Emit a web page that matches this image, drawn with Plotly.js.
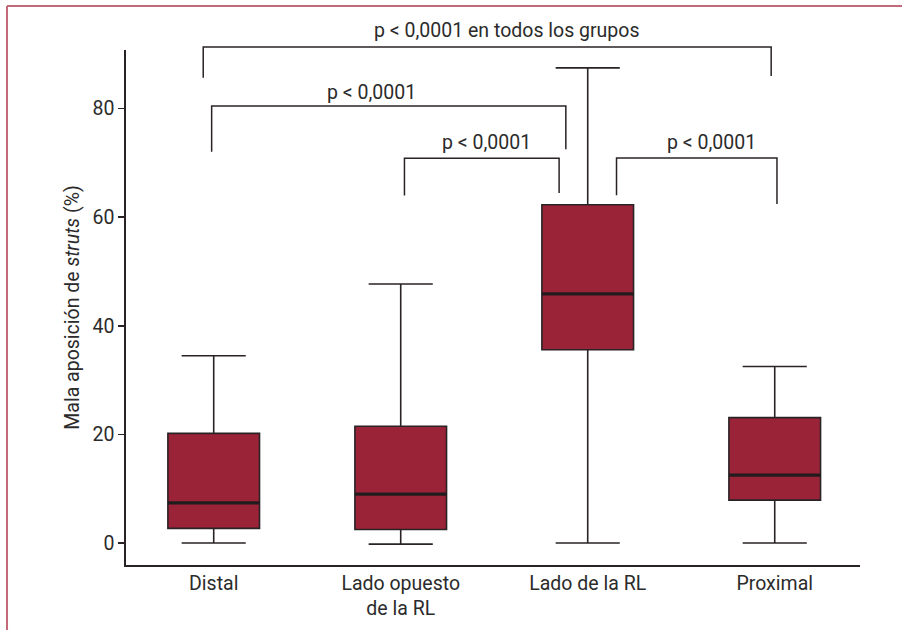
<!DOCTYPE html>
<html>
<head>
<meta charset="utf-8">
<script src="https://cdn.plot.ly/plotly-3.0.1.min.js"></script>
<style>html,body{margin:0;padding:0;background:#fff}#chart{width:902px;height:630px}</style>
</head>
<body>
<div id="chart"></div>
<script>
// ---- data ----
var categories = ["Distal", "Lado opuesto<br>de la RL", "Lado de la RL", "Proximal"];
var lowerWhisker = [0, -0.2, 0, 0];
var q1Values = [2.7, 2.5, 35.6, 7.9];
var medianValues = [7.4, 9.0, 45.9, 12.5];
var q3Values = [20.2, 21.5, 62.3, 23.1];
var upperWhisker = [34.5, 47.7, 87.5, 32.5];
var yTickValues = [0, 20, 40, 60, 80];
var yTitle = "Mala aposición de <i>struts</i> (%)";

// significance brackets: [from category index, to category index, label]
var bracketFrom = [0, 0, 1, 2];
var bracketTo = [3, 2, 2, 3];
var bracketLabels = ["p < 0,0001 en todos los grupos", "p < 0,0001", "p < 0,0001", "p < 0,0001"];

// ---- styling / layout ----
var FONT = "Roboto, 'Liberation Sans', sans-serif";
var FS = 19.5;
var TXT = "#2b2b2b";
var LINE = "#2a2326";
var FILL = "#9b2337";
var BOXW = 0.49;

// bracket geometry (in x-category offsets and paper y)
var bracketGeom = [
  {dx0: -0.056, dx1: -0.019, yTop: 1.0058, yL: 0.9462, yR: 0.9495, tx: 1.569, ty: 1.037},
  {dx0: -0.011, dx1: -0.117, yTop: 0.8913, yL: 0.8026, yR: 0.8073, tx: 0.845, ty: 0.9175},
  {dx0: 0.020, dx1: -0.153, yTop: 0.7898, yL: 0.7173, yR: 0.7225, tx: 1.460, ty: 0.8195},
  {dx0: 0.154, dx1: 0.012, yTop: 0.7904, yL: 0.7180, yR: 0.7011, tx: 2.660, ty: 0.8195}
];

var shapes = [];
var annotations = [];

// median lines (thicker)
for (var i = 0; i < medianValues.length; i++) {
  shapes.push({type: "line", xref: "x", yref: "y", x0: i - BOXW / 2, x1: i + BOXW / 2,
    y0: medianValues[i], y1: medianValues[i], line: {color: "#231c1f", width: 3.2}, layer: "above"});
}

for (var b = 0; b < bracketFrom.length; b++) {
  var g = bracketGeom[b];
  var xa = bracketFrom[b] + g.dx0, xb = bracketTo[b] + g.dx1;
  shapes.push({type: "path", xref: "x", yref: "paper",
    path: "M" + xa + "," + g.yL + " L" + xa + "," + g.yTop + " L" + xb + "," + g.yTop + " L" + xb + "," + g.yR,
    line: {color: LINE, width: 1.5}});
  annotations.push({xref: "x", yref: "paper", x: g.tx, y: g.ty, text: bracketLabels[b], showarrow: false,
    xanchor: "center", yanchor: "middle", font: {family: FONT, size: FS, color: TXT}});
}

// frame lines (top and left)
shapes.push({type: "line", xref: "paper", yref: "paper", x0: -0.1621, x1: 1.0572, y0: 1.0854, y1: 1.0854, line: {color: "#c26a79", width: 2}});
shapes.push({type: "line", xref: "paper", yref: "paper", x0: -0.1621, x1: -0.1621, y0: 1.0854, y1: -0.1262, line: {color: "#c26a79", width: 2}});

var trace = {
  type: "box",
  x: categories,
  q1: q1Values,
  median: medianValues,
  q3: q3Values,
  lowerfence: lowerWhisker,
  upperfence: upperWhisker,
  width: BOXW,
  whiskerwidth: 0.7,
  fillcolor: FILL,
  line: {color: LINE, width: 1.6},
  boxpoints: false,
  hoverinfo: "skip",
  showlegend: false
};

var layout = {
  width: 902, height: 630,
  margin: {l: 126, r: 42, t: 50, b: 65, pad: 0},
  paper_bgcolor: "#fff", plot_bgcolor: "#fff",
  font: {family: FONT, size: FS, color: TXT},
  showlegend: false,
  xaxis: {
    type: "category", range: [-0.469, 3.456], showgrid: false, zeroline: false,
    showline: true, linecolor: LINE, linewidth: 1.6, ticks: "", fixedrange: true,
    tickfont: {family: FONT, size: FS, color: TXT}
  },
  yaxis: {
    range: [-4.05, 90.8], tickvals: yTickValues, showgrid: false, zeroline: false,
    showline: true, linecolor: LINE, linewidth: 1.6, ticks: "outside", ticklen: 6,
    tickwidth: 1.5, tickcolor: LINE, fixedrange: true,
    tickfont: {family: FONT, size: FS, color: TXT},
    title: {text: yTitle, standoff: 8, font: {family: FONT, size: FS, color: TXT}}
  },
  shapes: shapes,
  annotations: annotations
};

Plotly.newPlot("chart", [trace], layout, {displayModeBar: false, staticPlot: true});
</script>
</body>
</html>
